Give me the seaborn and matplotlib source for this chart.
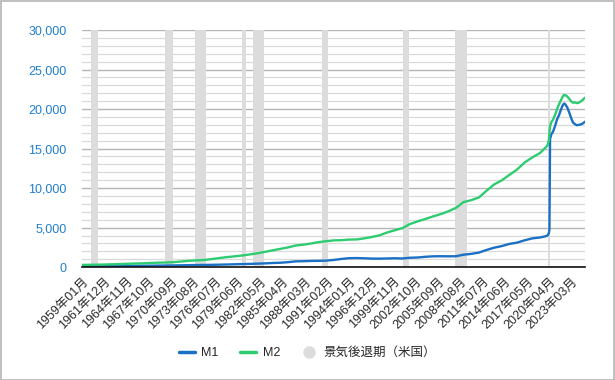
import matplotlib
matplotlib.use("Agg")
import matplotlib.pyplot as plt
import numpy as np
import pandas as pd
import seaborn as sns
from matplotlib.lines import Line2D
from matplotlib.patches import Rectangle
from matplotlib.ticker import FuncFormatter, MultipleLocator

# monthly axis range
FIRST_MONTH = "1959-01"
LAST_MONTH = "2024-12"

# money stock (billions of USD), sampled dates
obs_dates = [
    "1959-01", "1960-01", "1961-01", "1962-01", "1963-01", "1964-01", "1965-01",
    "1966-01", "1967-01", "1968-01", "1969-01", "1970-01", "1971-01", "1972-01",
    "1973-01", "1974-01", "1975-01", "1976-01", "1977-01", "1978-01", "1979-01",
    "1980-01", "1981-01", "1982-01", "1983-01", "1984-01", "1985-01", "1986-01",
    "1987-01", "1988-01", "1989-01", "1990-01", "1991-01", "1992-01", "1993-01",
    "1994-01", "1995-01", "1996-01", "1997-01", "1998-01", "1999-01", "2000-01",
    "2001-01", "2002-01", "2003-01", "2004-01", "2005-01", "2006-01", "2007-01",
    "2008-01", "2009-01", "2010-01", "2011-01", "2012-01", "2013-01", "2014-01",
    "2015-01", "2016-01", "2017-01", "2018-01", "2019-01", "2019-07", "2020-01",
    "2020-03", "2020-04", "2020-05", "2020-07", "2020-10", "2021-01", "2021-04",
    "2021-07", "2021-10", "2022-01", "2022-03", "2022-05", "2022-08", "2022-11",
    "2023-02", "2023-05", "2023-08", "2023-11", "2024-02", "2024-05", "2024-08",
    "2024-12",
]
m1_values = [
    139, 140, 142, 145, 148, 154, 161, 169, 172, 184, 199, 206, 216, 230,
    252, 268, 279, 295, 312, 335, 360, 386, 410, 443, 478, 525, 558, 627,
    732, 752, 785, 795, 826, 910, 1036, 1132, 1150, 1120, 1080, 1074, 1096, 1122,
    1097, 1189, 1221, 1309, 1367, 1380, 1367, 1379, 1575, 1679, 1838, 2171, 2458,
    2665, 2938, 3102, 3396, 3640, 3750, 3850, 3990, 4260, 4780, 16240, 16800,
    17200, 17900, 18700, 19200, 19900, 20500, 20700, 20600, 20200, 19600, 18900,
    18300, 18100, 17950, 18000, 18050, 18150, 18400,
]
m2_values = [
    287, 298, 312, 335, 363, 393, 425, 459, 482, 526, 568, 589, 628, 711,
    802, 856, 907, 1017, 1153, 1270, 1369, 1475, 1606, 1756, 1938, 2130, 2311,
    2497, 2737, 2838, 2988, 3165, 3281, 3386, 3412, 3489, 3504, 3642, 3820, 4029,
    4395, 4668, 4935, 5463, 5795, 6097, 6417, 6710, 7057, 7499, 8230, 8475, 8808,
    9660, 10460, 10980, 11670, 12340, 13240, 13880, 14430, 14900, 15410, 16050,
    17020, 17830, 18350, 18700, 19300, 20000, 20600, 21100, 21600, 21800, 21750,
    21600, 21300, 21000, 20800, 20850, 20750, 20800, 20950, 21150, 21450,
]

# US recessions (NBER)
rec_start = ["1960-04", "1969-12", "1973-11", "1980-01", "1981-07", "1990-07",
             "2001-03", "2007-12", "2020-02"]
rec_end = ["1961-02", "1970-11", "1975-03", "1980-07", "1982-11", "1991-03",
           "2001-11", "2009-06", "2020-04"]

months = pd.period_range(FIRST_MONTH, LAST_MONTH, freq="M")
first = pd.Period(FIRST_MONTH, freq="M")


def month_pos(label):
    return (pd.Period(label, freq="M") - first).n


BLUE = "#1a70c4"
GREEN = "#2ecc71"
SHADE = "#dcdcdc"

sns.set_style("white")
plt.rcParams["font.family"] = ["Liberation Sans", "Noto Sans CJK JP", "DejaVu Sans"]

long = pd.DataFrame({
    "pos": [month_pos(d) for d in obs_dates] * 2,
    "value": m1_values + m2_values,
    "series": ["M1"] * len(obs_dates) + ["M2"] * len(obs_dates),
})

fig = plt.figure(figsize=(6.15, 3.8), dpi=100)
ax = fig.add_axes([0.1333, 0.297, 0.818, 0.624])

for s, e in zip(rec_start, rec_end):
    ax.axvspan(month_pos(s) - 0.5, month_pos(e) + 0.5, color=SHADE, lw=0, zorder=1)

sns.lineplot(data=long, x="pos", y="value", hue="series",
             palette={"M1": BLUE, "M2": GREEN}, linewidth=1.7, ax=ax,
             legend=False, zorder=3)

ax.set_xlim(0, len(months) - 1)
ax.set_ylim(0, 30000)
ax.yaxis.set_major_locator(MultipleLocator(5000))
ax.yaxis.set_minor_locator(MultipleLocator(1000))
ax.yaxis.set_major_formatter(FuncFormatter(lambda v, p: f"{int(v):,}"))
ax.grid(which="major", axis="y", color="#b4b4b4", lw=1, zorder=0)
ax.grid(which="minor", axis="y", color="#d9d9d9", lw=0.9, zorder=0)
ax.set_axisbelow(True)

tick_idx = list(range(0, len(months), 35))
ax.set_xticks(tick_idx)
ax.set_xticklabels([months[i].strftime("%Y年%m月") for i in tick_idx],
                   rotation=45, ha="right", rotation_mode="anchor", fontsize=9,
                   color="#2a2a2a")
ax.tick_params(axis="x", length=0, pad=6)
ax.tick_params(axis="y", which="both", length=0, labelsize=9,
               labelcolor="#1f7fcf", pad=11)
ax.set(xlabel=None, ylabel=None)

for side in ["top", "right", "left"]:
    ax.spines[side].set_visible(False)
ax.spines["bottom"].set_color("#111111")
ax.spines["bottom"].set_linewidth(1.2)
ax.spines["bottom"].set_zorder(4)

handles = [
    Line2D([], [], color=BLUE, lw=2.5, label="M1"),
    Line2D([], [], color=GREEN, lw=2.5, label="M2"),
    Line2D([], [], color=SHADE, marker="o", lw=0, markersize=8, label="景気後退期（米国）"),
]
fig.legend(handles=handles, loc="center", bbox_to_anchor=(0.5, 0.071), ncol=3,
           frameon=False, fontsize=9, handlelength=1.3, columnspacing=1.7,
           handletextpad=0.5)

fig.add_artist(Rectangle((0.001, 0.001), 0.997, 0.996, transform=fig.transFigure,
                         fill=False, ec="#b5b5b5", lw=1.2))

fig.savefig("out.png", dpi=100)
